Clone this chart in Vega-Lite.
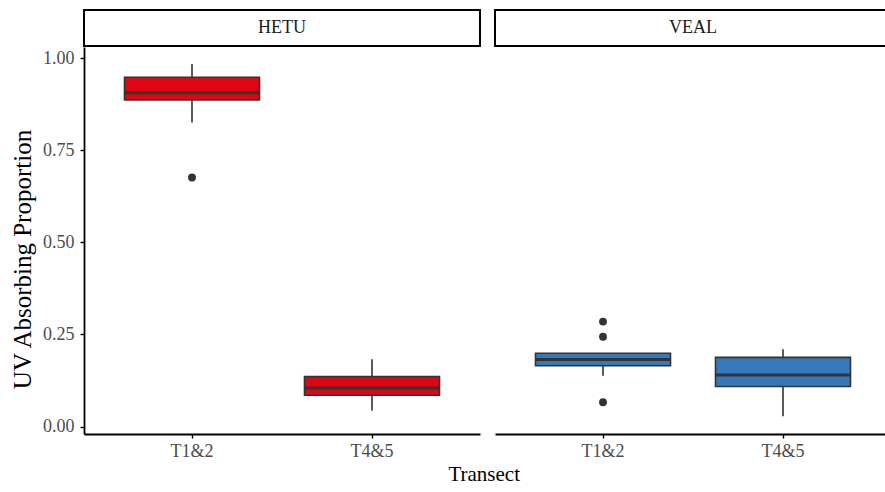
{
  "$schema": "https://vega.github.io/schema/vega-lite/v6.json",
  "padding": {"left": 10, "top": 9, "right": 0, "bottom": 0},
  "background": "white",
  "datasets": {
    "boxes": [
      {"panel": "HETU", "transect": "T1&2", "lower": 0.825, "q1": 0.886, "median": 0.906, "q3": 0.948, "upper": 0.984},
      {"panel": "HETU", "transect": "T4&5", "lower": 0.043, "q1": 0.085, "median": 0.105, "q3": 0.136, "upper": 0.183},
      {"panel": "VEAL", "transect": "T1&2", "lower": 0.138, "q1": 0.165, "median": 0.182, "q3": 0.199, "upper": 0.199},
      {"panel": "VEAL", "transect": "T4&5", "lower": 0.028, "q1": 0.109, "median": 0.140, "q3": 0.188, "upper": 0.210}
    ],
    "outliers": [
      {"panel": "HETU", "transect": "T1&2", "value": 0.676},
      {"panel": "VEAL", "transect": "T1&2", "value": 0.285},
      {"panel": "VEAL", "transect": "T1&2", "value": 0.244},
      {"panel": "VEAL", "transect": "T1&2", "value": 0.066}
    ]
  },
  "config": {
    "view": {"stroke": null},
    "font": "Liberation Serif",
    "axis": {
      "domainColor": "black", "domainWidth": 1.8, "tickColor": "black", "tickWidth": 1.4, "tickSize": 4,
      "labelColor": "#4D4D4D", "labelFont": "Liberation Serif", "labelFontSize": 18,
      "titleFont": "Liberation Serif", "titleFontSize": 25, "titleFontWeight": "normal", "titleColor": "black",
      "grid": false
    },
    "title": {"font": "Liberation Serif", "fontSize": 21, "fontWeight": "normal", "color": "black"}
  },
  "title": {"text": "Transect", "orient": "bottom", "anchor": "middle", "offset": 4, "dx": 33},
  "spacing": 13,
  "resolve": {"scale": {"y": "shared", "x": "independent"}},
  "hconcat": [
    {
      "spacing": 0,
      "vconcat": [
        {
          "width": 396, "height": 36,
          "view": {"stroke": "black", "strokeWidth": 2},
          "data": {"values": [{"label": "HETU"}]},
          "mark": {"type": "text", "font": "Liberation Serif", "fontSize": 18, "color": "#1A1A1A", "baseline": "middle"},
          "encoding": {"text": {"field": "label"}}
        },
        {
          "width": 396, "height": 387,
          "encoding": {
            "x": {"field": "transect", "type": "nominal", "title": null,
                  "scale": {"paddingInner": 0.25, "paddingOuter": 0.225},
                  "axis": {"labelAngle": 0, "labelPadding": 4}},
            "y": {"type": "quantitative", "title": "UV Absorbing Proportion",
                  "scale": {"domain": [-0.02, 1.03], "nice": false, "zero": false},
                  "axis": {"values": [0, 0.25, 0.5, 0.75, 1], "format": ".2f", "labelPadding": 6, "titlePadding": 7, "titleY": 212}}
          },
          "layer": [
            {
              "data": {"name": "boxes"},
              "transform": [{"filter": "datum.panel === 'HETU'"}],
              "mark": {"type": "rule", "color": "#333333", "strokeWidth": 1.6},
              "encoding": {"y": {"field": "lower", "type": "quantitative"}, "y2": {"field": "upper"}}
            },
            {
              "data": {"name": "boxes"},
              "transform": [{"filter": "datum.panel === 'HETU'"}],
              "mark": {"type": "bar", "fill": "#DE0612", "stroke": "#333333", "strokeWidth": 1.6},
              "encoding": {"y": {"field": "q1", "type": "quantitative"}, "y2": {"field": "q3"}}
            },
            {
              "data": {"name": "boxes"},
              "transform": [{"filter": "datum.panel === 'HETU'"}],
              "mark": {"type": "tick", "color": "#333333", "thickness": 3, "size": 135, "opacity": 1},
              "encoding": {"y": {"field": "median", "type": "quantitative"}}
            },
            {
              "data": {"name": "outliers"},
              "transform": [{"filter": "datum.panel === 'HETU'"}],
              "mark": {"type": "point", "filled": true, "color": "#333333", "size": 62, "opacity": 1},
              "encoding": {"y": {"field": "value", "type": "quantitative"}}
            }
          ]
        }
      ]
    },
    {
      "spacing": 0,
      "vconcat": [
        {
          "width": 396, "height": 36,
          "view": {"stroke": "black", "strokeWidth": 2},
          "data": {"values": [{"label": "VEAL"}]},
          "mark": {"type": "text", "font": "Liberation Serif", "fontSize": 18, "color": "#1A1A1A", "baseline": "middle"},
          "encoding": {"text": {"field": "label"}}
        },
        {
          "width": 396, "height": 387,
          "encoding": {
            "x": {"field": "transect", "type": "nominal", "title": null,
                  "scale": {"paddingInner": 0.25, "paddingOuter": 0.225},
                  "axis": {"labelAngle": 0, "labelPadding": 4}},
            "y": {"type": "quantitative",
                  "scale": {"domain": [-0.02, 1.03], "nice": false, "zero": false},
                  "axis": null}
          },
          "layer": [
            {
              "data": {"name": "boxes"},
              "transform": [{"filter": "datum.panel === 'VEAL'"}],
              "mark": {"type": "rule", "color": "#333333", "strokeWidth": 1.6},
              "encoding": {"y": {"field": "lower", "type": "quantitative"}, "y2": {"field": "upper"}}
            },
            {
              "data": {"name": "boxes"},
              "transform": [{"filter": "datum.panel === 'VEAL'"}],
              "mark": {"type": "bar", "fill": "#3778B9", "stroke": "#333333", "strokeWidth": 1.6},
              "encoding": {"y": {"field": "q1", "type": "quantitative"}, "y2": {"field": "q3"}}
            },
            {
              "data": {"name": "boxes"},
              "transform": [{"filter": "datum.panel === 'VEAL'"}],
              "mark": {"type": "tick", "color": "#333333", "thickness": 3, "size": 135, "opacity": 1},
              "encoding": {"y": {"field": "median", "type": "quantitative"}}
            },
            {
              "data": {"name": "outliers"},
              "transform": [{"filter": "datum.panel === 'VEAL'"}],
              "mark": {"type": "point", "filled": true, "color": "#333333", "size": 62, "opacity": 1},
              "encoding": {"y": {"field": "value", "type": "quantitative"}}
            }
          ]
        }
      ]
    }
  ]
}
